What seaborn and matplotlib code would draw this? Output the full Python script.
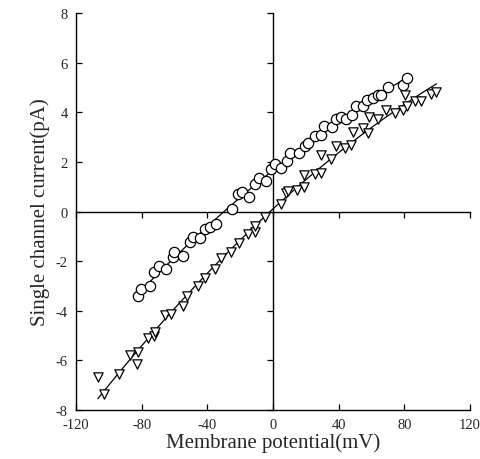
import numpy as np
import pandas as pd
import seaborn as sns
import matplotlib.pyplot as plt

# circles
circ_v = [-82.3, -80.3, -75.2, -72.2, -69.7, -65.0, -61.0, -60.0, -54.9, -50.8,
          -48.8, -44.3, -41.3, -38.6, -34.6, -25.0, -21.3, -18.9, -14.8, -10.8,
          -8.7, -4.1, -1.4, 1.0, 5.1, 8.7, 10.2, 15.7, 19.7, 21.3,
          25.8, 29.5, 31.1, 36.0, 38.6, 41.3, 44.7, 48.2, 50.8, 54.9,
          57.3, 61.0, 64.0, 66.0, 70.1, 79.3, 81.9]
circ_i = [-3.39, -3.12, -3.01, -2.45, -2.18, -2.32, -1.85, -1.65, -1.78, -1.24,
          -1.04, -1.08, -0.71, -0.64, -0.51, 0.09, 0.72, 0.79, 0.60, 1.10,
          1.37, 1.23, 1.70, 1.90, 1.77, 2.03, 2.34, 2.37, 2.64, 2.77,
          3.04, 3.10, 3.44, 3.41, 3.71, 3.82, 3.71, 3.91, 4.27, 4.24,
          4.51, 4.58, 4.71, 4.71, 5.02, 5.11, 5.38]

# triangles
tri_v = [-106.7, -103.0, -93.5, -87.4, -82.3, -82.9, -76.2, -72.2, -71.7, -66.0,
         -62.4, -54.9, -52.2, -45.7, -41.7, -35.6, -31.5, -25.4, -20.9, -15.2,
         -11.2, -10.8, -4.7, 4.7, 8.1, 9.1, 14.8, 18.9, 18.9, 25.4,
         29.1, 29.1, 35.2, 38.6, 43.7, 47.8, 48.8, 54.9, 57.9, 58.3,
         64.0, 69.1, 74.2, 79.3, 80.3, 81.9, 86.4, 90.0, 96.1, 99.6]
tri_i = [-6.67, -7.34, -6.53, -5.80, -5.66, -6.13, -5.10, -5.00, -4.86, -4.19,
         -4.12, -3.79, -3.41, -2.99, -2.69, -2.32, -1.89, -1.65, -1.27, -0.91,
         -0.84, -0.58, -0.24, 0.29, 0.74, 0.83, 0.87, 1.00, 1.46, 1.50,
         1.57, 2.26, 2.13, 2.64, 2.54, 2.68, 3.20, 3.37, 3.17, 3.82,
         3.71, 4.11, 3.98, 4.11, 4.71, 4.27, 4.44, 4.44, 4.75, 4.81]

x_ticks = [-120, -80, -40, 0, 40, 80, 120]
y_ticks = [-8, -6, -4, -2, 0, 2, 4, 6, 8]

circ = pd.DataFrame({'v': circ_v, 'i': circ_i})
tri = pd.DataFrame({'v': tri_v, 'i': tri_i})

sns.set_style('ticks')
plt.rcParams['font.family'] = ['Liberation Serif', 'DejaVu Serif']
plt.rcParams['axes.unicode_minus'] = False

fig = plt.figure(figsize=(4.81, 4.60), dpi=100)
ax = fig.add_axes([0.158, 0.1065, 0.819, 0.863])

# fitted curves
sns.regplot(x='v', y='i', data=circ, order=2, ci=None, scatter=False,
            line_kws={'color': 'black', 'lw': 0.9}, ax=ax)
sns.regplot(x='v', y='i', data=tri, order=2, ci=None, scatter=False,
            line_kws={'color': 'black', 'lw': 0.9}, ax=ax)

sns.scatterplot(x='v', y='i', data=circ, marker='o', s=55, facecolor='white',
                edgecolor='black', linewidth=0.9, ax=ax, zorder=3)
sns.scatterplot(x='v', y='i', data=tri, marker='v', s=45, facecolor='white',
                edgecolor='black', linewidth=0.9, ax=ax, zorder=3)

ax.set_xlim(-120, 120)
ax.set_ylim(-8, 8)
ax.set_xticks(x_ticks)
ax.set_yticks(y_ticks)

# zero lines carry their own ticks
ax.spines['right'].set_position(('data', 0))
ax.spines['top'].set_position(('data', 0))
for s in ax.spines.values():
    s.set_color('black')
    s.set_linewidth(1.0)
ax.tick_params(direction='in', length=4, width=0.9, color='black',
               top=True, right=True, labeltop=False, labelright=False,
               labelsize=10.5, pad=6)

ax.set_xlabel('Membrane potential(mV)', fontsize=15, labelpad=1)
ax.set_ylabel('Single channel current(pA)', fontsize=15, labelpad=4)

fig.savefig('out.png', dpi=100)
